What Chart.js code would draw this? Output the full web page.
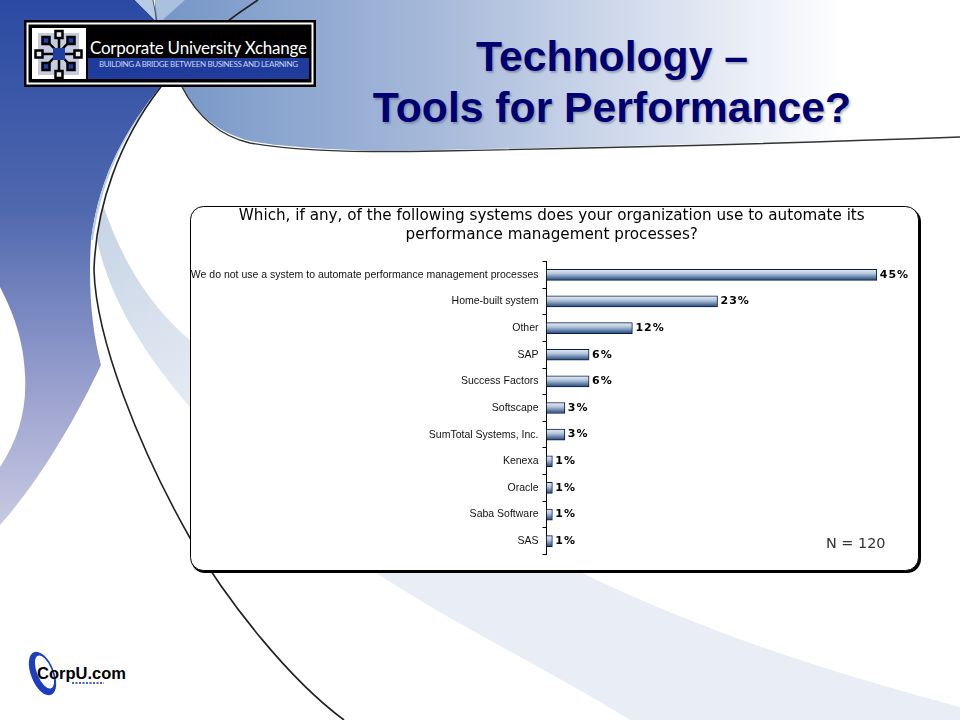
<!DOCTYPE html>
<html>
<head>
<meta charset="utf-8">
<title>Technology - Tools for Performance?</title>
<script src="https://cdn.jsdelivr.net/npm/chart.js@4"></script>
<style>
    html, body { margin: 0; padding: 0; background: #fff; overflow: hidden; }
    #slide { position: relative; width: 960px; height: 720px; overflow: hidden; }
    #art { position: absolute; left: 0; top: 0; }
    .heading {
        position: absolute; left: 299px; width: 626px; text-align: center;
        font: bold 42.7px/50px "Liberation Sans", Arial, sans-serif; color: #000070;
        text-shadow: 1.5px 1.5px 2px rgba(60, 60, 90, 0.35); white-space: nowrap;
    }
    #chartBox { position: absolute; left: 190px; top: 206px; }
</style>
</head>
<body>
<div id="slide">
    <svg id="art" width="960" height="720" viewBox="0 0 960 720">
        <defs>
            <linearGradient id="leftBlue" x1="0" y1="0" x2="0" y2="1">
                <stop offset="0" stop-color="#2a4aa2"/>
                <stop offset="0.4" stop-color="#5068ae"/>
                <stop offset="0.75" stop-color="#9ba2cf"/>
                <stop offset="1" stop-color="#c8c9e2"/>
            </linearGradient>
            <linearGradient id="topBlue" x1="150" y1="0" x2="845" y2="0" gradientUnits="userSpaceOnUse">
                <stop offset="0" stop-color="#7495c6"/>
                <stop offset="0.4" stop-color="#a5b8d9"/>
                <stop offset="0.8" stop-color="#e2e8f3"/>
                <stop offset="1" stop-color="#ffffff"/>
            </linearGradient>
            <linearGradient id="wave" x1="100" y1="210" x2="240" y2="400" gradientUnits="userSpaceOnUse">
                <stop offset="0" stop-color="#c6d4e5"/>
                <stop offset="1" stop-color="#e9edf5"/>
            </linearGradient>
        </defs>
        <path d="M103,205 C125,270 155,310 190,340 C300,440 440,510 580,572 C710,635 840,675 960,707 L960,720 L630,720 C540,665 455,625 375,572 C300,520 240,465 190,407 C145,355 110,300 97,240 Z" fill="url(#wave)"/>
        <path d="M0,0 L135,0 L155,20 L160,87 C130,125 100,170 91,240 C88,290 92,330 101,365 C75,420 40,480 0,525 L0,467 C18,440 27,410 25,375 C24,340 12,310 0,287 Z" fill="url(#leftBlue)"/>
        <path d="M135,0 L153,0 L157,20 L162,87 C130,125 103,170 93,240 L91,240 C100,170 130,125 160,87 L155,20 Z" fill="#b8cbe5"/>
        <path d="M155,0 L960,0 L960,136 C800,142 600,147 440,150 C380,151 310,151 250,141 C215,132 195,112 182,87 L155,20 Z" fill="url(#topBlue)"/>
        <path d="M155,0 L185,0 L158,24 Z" fill="#a9c0df"/>
        <path d="M182,87 C195,112 215,135 250,143 C310,153 380,152 440,151 C600,148 800,143 960,137" fill="none" stroke="#333" stroke-width="1.4"/>
        <path d="M258,0 C205,35 175,65 160,88 C120,140 96,205 94,270 C96,340 140,450 190,538 C230,605 290,680 344,720" fill="none" stroke="#222" stroke-width="1.6"/>
        <path d="M153,0 L157,22" fill="none" stroke="#555" stroke-width="1"/>

        <!-- logo -->
        <rect x="24" y="20" width="292" height="67" fill="#000"/>
        <rect x="27.5" y="23.5" width="285" height="60" fill="none" stroke="#fff" stroke-width="2"/>
        <rect x="32" y="28" width="54" height="51" fill="#fff"/>
        <rect x="38" y="33" width="41" height="42" fill="#c6cce0"/>
        <path d="M59,34 L59,74 M39,54 L78,54 M46,40 L71,66 M71,40 L46,66" stroke="#000" stroke-width="2.5"/>
        <rect x="53" y="48" width="12" height="12" fill="#1f3f9f"/>
        <g fill="#e8e8ee" stroke="#000" stroke-width="2.5">
            <rect x="55.5" y="31" width="7" height="7"/><rect x="55.5" y="71" width="7" height="7"/>
            <rect x="35.5" y="50.5" width="7" height="7"/><rect x="74.5" y="50.5" width="7" height="7"/>
        </g>
        <g fill="#1f3f9f" stroke="#000" stroke-width="2.5">
            <rect x="42.5" y="37" width="7" height="7"/><rect x="67.5" y="37" width="7" height="7"/>
            <rect x="42.5" y="63" width="7" height="7"/><rect x="67.5" y="63" width="7" height="7"/>
        </g>
        <rect x="88" y="58" width="221" height="21" fill="#1f3c9c"/>
        <text x="90" y="54" font-family="Lato, sans-serif" font-size="17" fill="#fff" textLength="217">Corporate University Xchange</text>
        <text x="99" y="67" font-family="Lato, sans-serif" font-size="8" fill="#c9d5f2" textLength="199">BUILDING A BRIDGE BETWEEN BUSINESS AND LEARNING</text>

        <!-- CorpU mark -->
        <ellipse cx="42.5" cy="673.5" rx="11.5" ry="23" transform="rotate(-22 42.5 673.5)" fill="#1c3fc0"/>
        <ellipse cx="44.5" cy="672" rx="7.5" ry="17.5" transform="rotate(-22 44.5 672)" fill="#fff"/>
        <text x="37" y="679" font-family="Liberation Sans, sans-serif" font-weight="bold" font-size="16.5" fill="#000">CorpU.com</text>
        <path d="M72,683 L104,683" stroke="#4a5fc0" stroke-width="2" stroke-dasharray="2 1.5"/>

        <!-- chart panel -->
        <rect x="191" y="208" width="730" height="365" rx="14" fill="#000"/>
        <rect x="190.5" y="206.5" width="728" height="364" rx="13" fill="#fff" stroke="#000" stroke-width="1"/>
    </svg>

    <div class="heading" style="top: 31px;">Technology –</div>
    <div class="heading" style="top: 82px;">Tools for Performance?</div>

    <div id="chartBox"><canvas id="toolsChart" width="730" height="366"></canvas></div>
</div>

<script>
// chart values
const categories = [
    'We do not use a system to automate performance management processes',
    'Home-built system',
    'Other',
    'SAP',
    'Success Factors',
    'Softscape',
    'SumTotal Systems, Inc.',
    'Kenexa',
    'Oracle',
    'Saba Software',
    'SAS'
];
// bar lengths, the printed labels are rounded
const percentValues = [45, 23.3, 11.7, 5.8, 5.8, 2.5, 2.5, 0.8, 0.8, 0.8, 0.8];
const percentLabels = ['45%', '23%', '12%', '6%', '6%', '3%', '3%', '1%', '1%', '1%', '1%'];
const chartTitle = [
    'Which, if any, of the following systems does your organization use to automate its',
    'performance management processes?'
];
const sampleNote = 'N = 120';

// light top to dark bottom on each bar
function barGradient(context) {
    const chart = context.chart;
    const yScale = chart.scales.y;
    const mid = yScale ? yScale.getPixelForValue(context.dataIndex) : NaN;
    if (!Number.isFinite(mid)) {
        return '#5f7fa8';
    }
    const g = chart.ctx.createLinearGradient(0, mid - 6, 0, mid + 6);
    g.addColorStop(0, '#eef3f8');
    g.addColorStop(0.4, '#b4c6dc');
    g.addColorStop(0.75, '#56769f');
    g.addColorStop(1, '#1d3c70');
    return g;
}

// percent labels at the bar ends and the N note
const barLabels = {
    id: 'barLabels',
    afterDatasetsDraw(chart) {
        const ctx = chart.ctx;
        ctx.save();
        ctx.fillStyle = '#000';
        ctx.textBaseline = 'middle';
        ctx.textAlign = 'left';
        ctx.font = 'bold 11px "DejaVu Sans"';
        ctx.letterSpacing = '1px';
        chart.getDatasetMeta(0).data.forEach((bar, i) => {
            ctx.fillText(percentLabels[i], bar.x + 3, bar.y);
        });
        ctx.letterSpacing = '0px';
        ctx.font = '14.4px "DejaVu Sans"';
        ctx.fillStyle = '#333';
        ctx.fillText(sampleNote, 636, 338);
        ctx.restore();
    }
};

new Chart(document.getElementById('toolsChart'), {
    type: 'bar',
    data: {
        labels: categories,
        datasets: [{
            data: percentValues,
            backgroundColor: barGradient,
            borderColor: '#0a1c44',
            borderWidth: 1,
            barThickness: 11
        }]
    },
    plugins: [barLabels],
    options: {
        indexAxis: 'y',
        responsive: false,
        animation: false,
        layout: { padding: { left: 0, right: 6.5, top: 0, bottom: 17.5 } },
        plugins: {
            legend: { display: false },
            tooltip: { enabled: false },
            title: {
                display: true,
                text: chartTitle,
                color: '#000',
                font: { family: '"DejaVu Sans"', size: 15.2, weight: 'normal', lineHeight: 1.25 },
                padding: { top: 1, bottom: 16.5 }
            }
        },
        scales: {
            x: { display: false, min: 0, max: 50 },
            y: {
                afterFit(scale) { scale.width = 356.5; },
                border: { color: '#000' },
                grid: { offset: true, drawOnChartArea: false, color: '#000', tickLength: 4 },
                ticks: {
                    autoSkip: false,
                    color: '#111',
                    padding: 4,
                    font: { family: '"Liberation Sans"', size: 10.5 }
                }
            }
        }
    }
});
</script>
</body>
</html>
